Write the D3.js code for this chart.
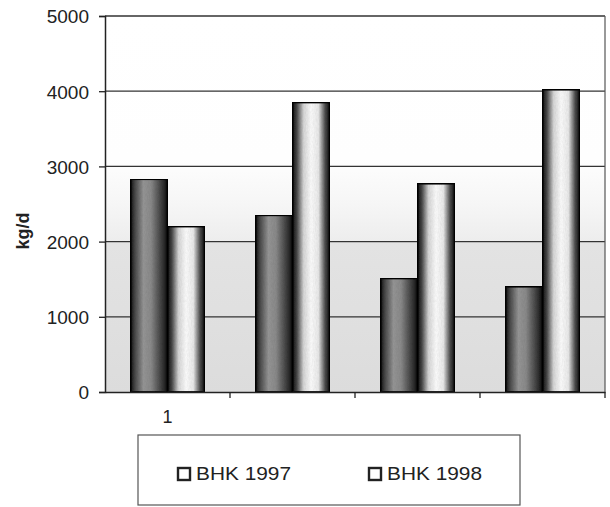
<!DOCTYPE html>
<html>
<head>
<meta charset="utf-8">
<script src="https://cdn.jsdelivr.net/npm/d3@7"></script>
<style>
  html, body { margin: 0; padding: 0; background: #fff; }
  svg { display: block; font-family: "Liberation Sans", Arial, sans-serif; }
</style>
</head>
<body>
<svg id="chart" width="610" height="507"></svg>
<script>
// Daily loads per sampling point, two campaigns
const categories = ["1", "2", "3", "4"];
const categoryLabels = ["1", "", "", ""];
const seriesNames = ["BHK 1997", "BHK 1998"];
const bhk1997 = [2830, 2350, 1510, 1400];
const bhk1998 = [2200, 3850, 2770, 4020];
const yTicks = [0, 1000, 2000, 3000, 4000, 5000];

const svg = d3.select("#chart");
const plotLeft = 105, plotRight = 605, plotTop = 16, plotBottom = 392;
const fontFamily = "'Liberation Sans', Arial, sans-serif";

const x = d3.scaleBand().domain(categories).range([plotLeft, plotRight]);
const inner = d3.scaleBand().domain(seriesNames).range([0, x.bandwidth()])
  .paddingInner(0).paddingOuter(0.69);
const y = d3.scaleLinear().domain([0, 5000]).range([plotBottom, plotTop]);

const defs = svg.append("defs");

// plot background: white at the top, greying towards the base
const bg = defs.append("linearGradient").attr("id", "bgGrad")
  .attr("x1", 0).attr("y1", 0).attr("x2", 0).attr("y2", 1);
[[0, "#ffffff"], [0.38, "#fefefe"], [0.5, "#f6f6f6"], [0.6, "#ededed"], [0.605, "#e3e3e3"], [1, "#dcdcdc"]]
  .forEach(([o, c]) => bg.append("stop").attr("offset", o).attr("stop-color", c));

// cylinder shading for the dark series
const g1 = defs.append("linearGradient").attr("id", "darkBar")
  .attr("x1", 0).attr("y1", 0).attr("x2", 1).attr("y2", 0);
[[0, "#141414"], [0.12, "#4a4a4a"], [0.35, "#979797"], [0.55, "#8c8c8c"], [0.8, "#4a4a4a"], [1, "#121212"]]
  .forEach(([o, c]) => g1.append("stop").attr("offset", o).attr("stop-color", c));

// cylinder shading for the light series
const g2 = defs.append("linearGradient").attr("id", "lightBar")
  .attr("x1", 0).attr("y1", 0).attr("x2", 1).attr("y2", 0);
[[0, "#141414"], [0.12, "#4a4a4a"], [0.3, "#d8d8d8"], [0.5, "#ffffff"], [0.7, "#ececec"], [0.88, "#505050"], [1, "#141414"]]
  .forEach(([o, c]) => g2.append("stop").attr("offset", o).attr("stop-color", c));

// fine grain
const grain = defs.append("filter").attr("id", "grain")
  .attr("x", 0).attr("y", 0).attr("width", 1).attr("height", 1);
grain.append("feTurbulence").attr("type", "fractalNoise").attr("baseFrequency", "0.9 0.35")
  .attr("numOctaves", 2).attr("seed", 3).attr("result", "noise");
grain.append("feColorMatrix").attr("in", "noise").attr("type", "matrix")
  .attr("values", "0 0 0 0 0  0 0 0 0 0  0 0 0 0 0  0 0 0 0.16 0").attr("result", "dots");
grain.append("feComposite").attr("in", "dots").attr("in2", "SourceGraphic").attr("operator", "in").attr("result", "dotsIn");
grain.append("feMerge").call(m => {
  m.append("feMergeNode").attr("in", "SourceGraphic");
  m.append("feMergeNode").attr("in", "dotsIn");
});

// plot area
svg.append("rect").attr("x", plotLeft).attr("y", plotTop)
  .attr("width", plotRight - plotLeft).attr("height", plotBottom - plotTop)
  .attr("fill", "url(#bgGrad)");

// horizontal gridlines
svg.append("g").selectAll("line").data(yTicks.filter(d => d > 0)).join("line")
  .attr("x1", plotLeft).attr("x2", plotRight)
  .attr("y1", d => y(d)).attr("y2", d => y(d))
  .attr("stroke", "#333").attr("stroke-width", 1.3);

// right border
svg.append("line").attr("x1", plotRight).attr("x2", plotRight).attr("y1", plotTop).attr("y2", plotBottom)
  .attr("stroke", "#555").attr("stroke-width", 1.2);

// bars
const rows = categories.map((c, i) => ({ c, vals: [bhk1997[i], bhk1998[i]] }));
const groups = svg.append("g").selectAll("g").data(rows).join("g")
  .attr("transform", d => `translate(${x(d.c)},0)`);
groups.selectAll("rect").data(d => d.vals.map((v, j) => ({ s: seriesNames[j], v, j })))
  .join("rect")
  .attr("x", d => inner(d.s))
  .attr("y", d => y(d.v))
  .attr("width", inner.bandwidth())
  .attr("height", d => y(0) - y(d.v))
  .attr("fill", d => d.j === 0 ? "url(#darkBar)" : "url(#lightBar)")
  .attr("filter", "url(#grain)")
  .attr("stroke", "#111").attr("stroke-width", 1.8);

// y axis
const yAxis = svg.append("g").attr("transform", `translate(${plotLeft},0)`)
  .call(d3.axisLeft(y).tickValues(yTicks).tickSize(6).tickPadding(10).tickFormat(d3.format("d")));
yAxis.select(".domain").attr("stroke", "#222").attr("stroke-width", 1.5);
yAxis.selectAll(".tick line").attr("stroke", "#222").attr("stroke-width", 1.3);
yAxis.selectAll(".tick text").attr("font-size", 19).attr("fill", "#222")
  .attr("font-family", fontFamily).attr("dy", "0.36em");

// x axis
const xAxis = svg.append("g").attr("transform", `translate(0,${plotBottom})`)
  .call(d3.axisBottom(x).tickSize(0).tickPadding(18).tickFormat((d, i) => categoryLabels[i]));
xAxis.select(".domain").attr("stroke", "#222").attr("stroke-width", 1.5);
xAxis.selectAll(".tick text").attr("font-size", 18).attr("fill", "#222")
  .attr("font-family", fontFamily);
// category dividers
svg.append("g").selectAll("line").data(categories.slice(1).map(c => x(c)).concat([plotRight]))
  .join("line")
  .attr("x1", d => d).attr("x2", d => d)
  .attr("y1", plotBottom).attr("y2", plotBottom + 6)
  .attr("stroke", "#222").attr("stroke-width", 1.3);

// y axis title
svg.append("text")
  .attr("transform", `translate(29,231) rotate(-90)`)
  .attr("text-anchor", "middle")
  .attr("font-size", 18).attr("font-weight", "bold").attr("fill", "#222")
  .attr("font-family", fontFamily)
  .text("kg/d");

// legend
const legend = svg.append("g");
legend.append("rect").attr("x", 138).attr("y", 435).attr("width", 382).attr("height", 70)
  .attr("fill", "#fff").attr("stroke", "#555").attr("stroke-width", 1.2);
const legendX = [178, 369];
const items = legend.selectAll("g.item").data(seriesNames).join("g").attr("class", "item")
  .attr("transform", (d, i) => `translate(${legendX[i]},480)`);
items.append("rect").attr("x", 0).attr("y", -12).attr("width", 12).attr("height", 12)
  .attr("fill", "#fff").attr("stroke", "#222").attr("stroke-width", 2.4);
items.append("text").attr("x", 18).attr("y", 0)
  .attr("font-size", 19).attr("fill", "#222")
  .attr("font-family", fontFamily)
  .attr("textLength", 95).attr("lengthAdjust", "spacingAndGlyphs")
  .text(d => d);
</script>
</body>
</html>
